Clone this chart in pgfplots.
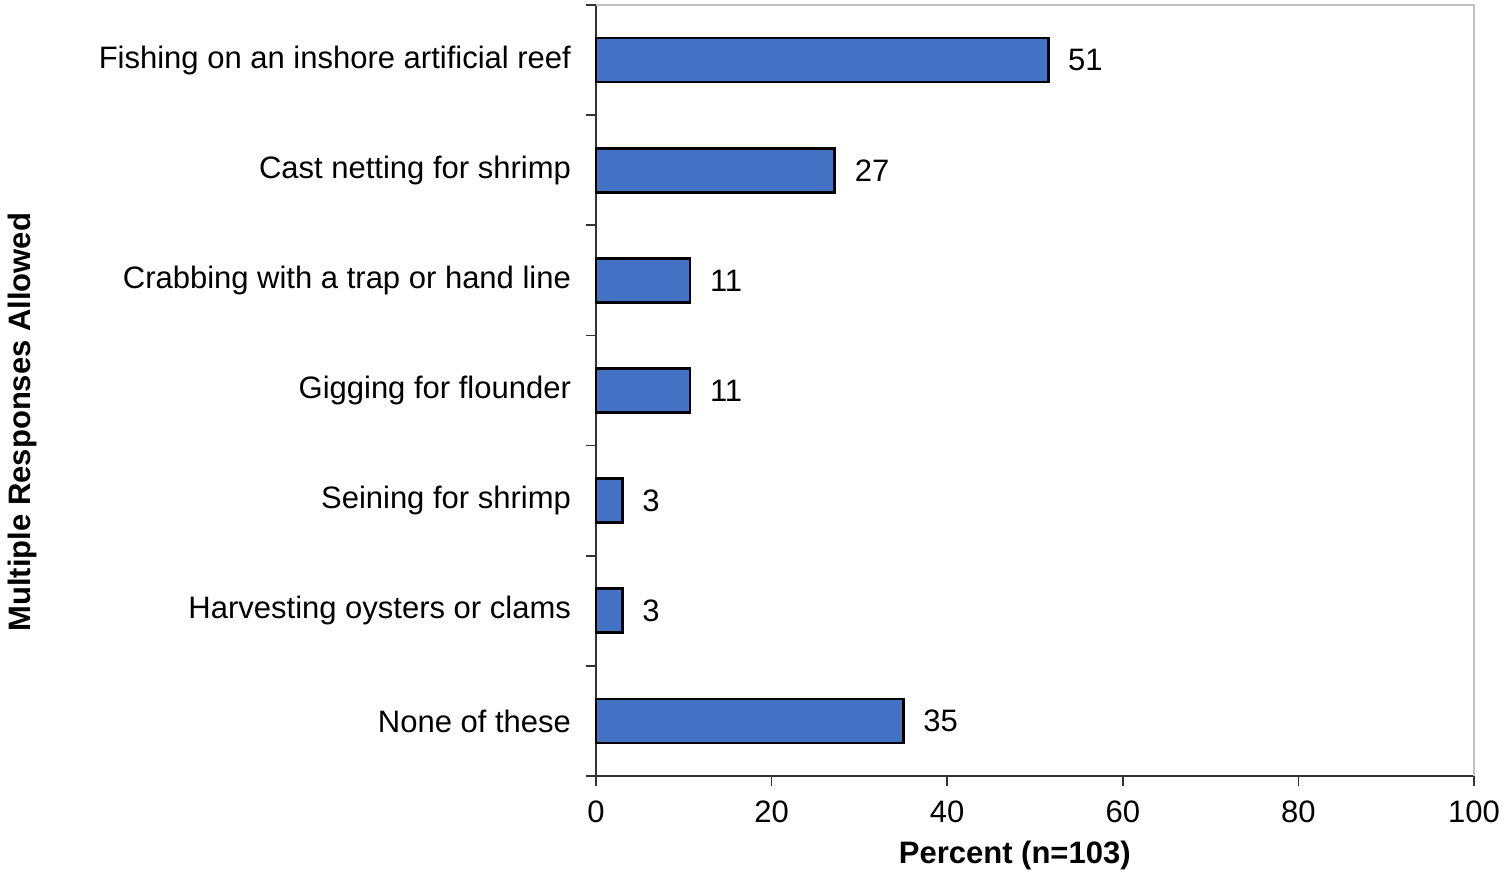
\documentclass[border=0pt]{standalone}
\usepackage{pgfplots}
\pgfplotsset{compat=1.18}
\usepackage{pgfplotstable}
\usepackage{fontspec}
\setmainfont{Liberation Sans}
\definecolor{barblue}{HTML}{4472C4}

\pgfplotstableread{
pos value label
0 51.5 51
1 27.2 27
2 10.7 11
3 10.7 11
4 3.0 3
5 3.0 3
6 35.0 35
}\activities

\begin{document}
\begin{tikzpicture}[font=\fontsize{15.5}{18}\selectfont]
\path[use as bounding box] (-298pt,-48pt) rectangle (454pt,388pt);
\begin{axis}[
    at={(0,0)}, anchor=south west,
    scale only axis,
    width=439pt, height=385.5pt,
    xbar, bar width=22pt,
    xmin=0, xmax=100,
    ymin=-0.5, ymax=6.5,
    y dir=reverse,
    axis lines=left,
    axis line style={-, black!80, line width=0.8pt},
    xtick={0,20,...,100},
    ytick={0,...,6},
    yticklabels={Fishing on an inshore artificial reef,
                 Cast netting for shrimp,
                 Crabbing with a trap or hand line,
                 Gigging for flounder,
                 Seining for shrimp,
                 Harvesting oysters or clams,
                 None of these},
    minor ytick={-0.5,0.5,...,6.5},
    tick align=outside,
    major tick length=5pt,
    minor tick length=5pt,
    y tick style={draw=none},
    minor y tick style={draw=black!80, line width=0.8pt},
    x tick style={black!80, line width=0.8pt},
    yticklabel style={xshift=-4pt},
    xticklabel style={yshift=-4pt},
    /pgf/number format/assume math mode=true,
    xlabel={\textbf{Percent (n=103)}},
    xlabel style={at={(axis description cs:0.477,0)}, anchor=center, yshift=-39.5pt},
    ylabel={\textbf{Multiple Responses Allowed}},
    ylabel style={at={(axis description cs:-0.6537,0.459)}, anchor=center},
    point meta=explicit symbolic,
    nodes near coords,
    nodes near coords style={anchor=west, xshift=6pt},
    clip=false,
]
\addplot[fill=barblue, draw=black, line width=1.4pt]
    table[x=value, y=pos, meta=label] {\activities};
\draw[black!25, line width=0.8pt] (rel axis cs:0,1) -- (rel axis cs:1,1) -- (rel axis cs:1,0);
\end{axis}
\end{tikzpicture}
\end{document}
